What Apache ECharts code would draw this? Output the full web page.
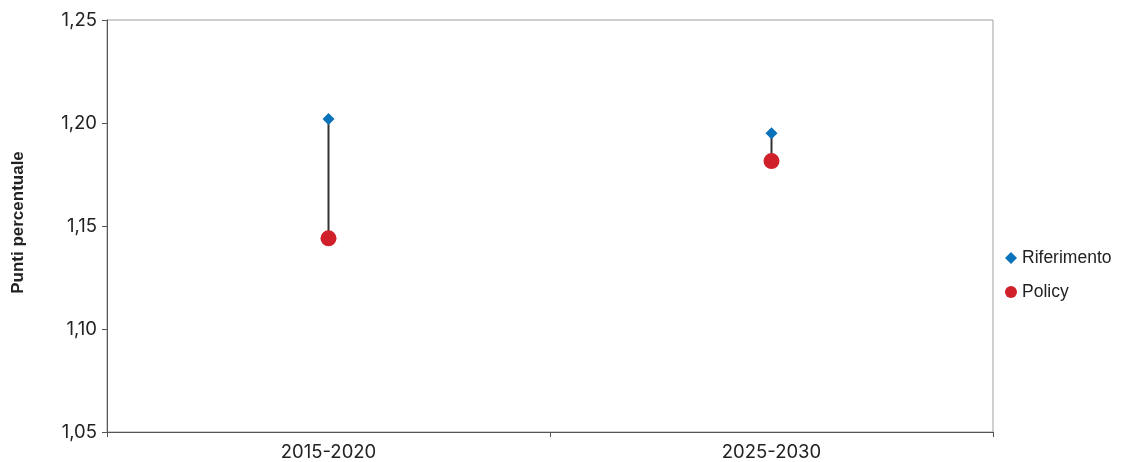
<!DOCTYPE html>
<html><head><meta charset="utf-8">
<script src="https://cdn.jsdelivr.net/npm/echarts@6/dist/echarts.min.js"></script>
<style>html,body{margin:0;padding:0;background:#fff}#c{width:1127px;height:462px}</style>
</head><body><div id="c"></div>
<script>
const categories = ['2015-2020', '2025-2030'];
const riferimento = [1.202, 1.195];
const policy = [1.144, 1.1815];
const yTicks = [1.05, 1.10, 1.15, 1.20, 1.25];

const chart = echarts.init(document.getElementById('c'), null, {renderer: 'canvas'});
const font = '"Liberation Sans", Arial, Helvetica, sans-serif';
const tickFont = 'Inter, "Liberation Sans", Arial, sans-serif';
chart.setOption({
  animation: false,
  backgroundColor: '#fff',
  textStyle: {fontFamily: font},
  grid: {left: 107, right: 134, top: 20, bottom: 30, show: true, borderColor: '#a0a0a0', borderWidth: 1},
  legend: {
    orient: 'vertical', left: 1005, top: 249, padding: 0, itemGap: 16, itemWidth: 12, itemHeight: 12,
    textStyle: {fontSize: 17.5, color: '#222', fontFamily: font},
    data: [{name: 'Riferimento', icon: 'diamond'}, {name: 'Policy', icon: 'circle'}]
  },
  xAxis: {
    type: 'category', data: categories, boundaryGap: true,
    axisLine: {lineStyle: {color: '#555', width: 1}},
    axisTick: {show: true, length: 5, lineStyle: {color: '#555'}},
    axisLabel: {fontSize: 18.5, color: '#222', margin: 11, fontFamily: tickFont}
  },
  yAxis: {
    type: 'value', min: 1.05, max: 1.25, interval: 0.05,
    name: 'Punti percentuale', nameLocation: 'middle', nameGap: 80, nameRotate: 90,
    nameTextStyle: {fontSize: 17, fontWeight: 'bold', color: '#222', fontFamily: font, padding: [0, 0, 0, 7]},
    axisLine: {show: true, lineStyle: {color: '#555', width: 1}},
    axisTick: {show: true, length: 5, lineStyle: {color: '#555'}},
    splitLine: {show: false},
    axisLabel: {fontSize: 18.5, color: '#222', margin: 10, fontFamily: tickFont,
      formatter: v => yTicks.includes(Math.round(v*100)/100) ? v.toFixed(2).replace('.', ',') : ''}
  },
  series: [
    {
      type: 'custom', name: 'range', silent: true, z: 1,
      data: categories.map((c, i) => [i, riferimento[i], policy[i]]),
      encode: {x: 0, y: [1, 2]},
      renderItem: (params, api) => {
        const p1 = api.coord([api.value(0), api.value(1)]);
        const p2 = api.coord([api.value(0), api.value(2)]);
        return {type: 'line', shape: {x1: p1[0], y1: p1[1], x2: p2[0], y2: p2[1]},
          style: {stroke: '#333', lineWidth: 2}};
      }
    },
    {type: 'scatter', name: 'Riferimento', data: riferimento, symbol: 'diamond', symbolSize: 12,
      itemStyle: {color: '#0a72ba', opacity: 1}, z: 3},
    {type: 'scatter', name: 'Policy', data: policy, symbol: 'circle', symbolSize: 16,
      itemStyle: {color: '#d0202a', opacity: 1}, z: 3}
  ]
});
</script></body></html>
